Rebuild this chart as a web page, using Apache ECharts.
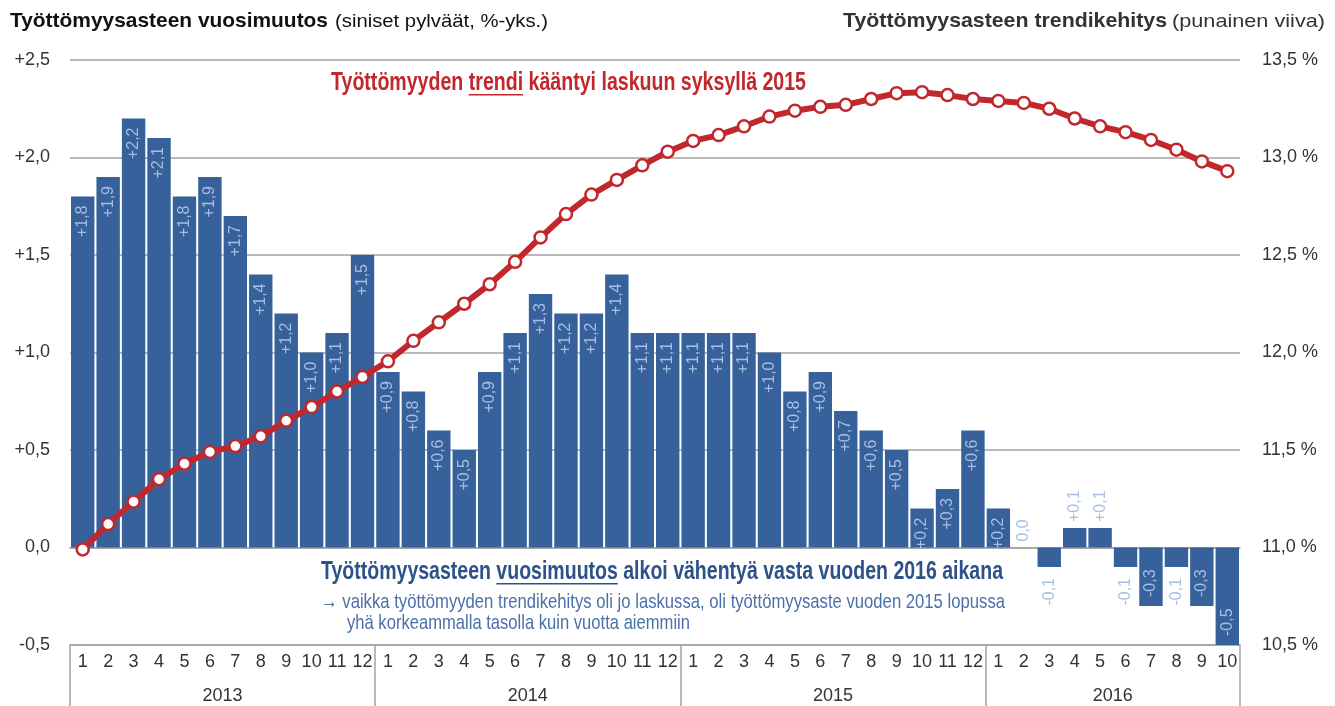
<!DOCTYPE html>
<html>
<head>
<meta charset="utf-8">
<script src="https://cdn.jsdelivr.net/npm/echarts@6/dist/echarts.min.js"></script>
<style>
  html, body { margin: 0; padding: 0; background: #fff; }
  #chart { width: 1335px; height: 706px; }
</style>
</head>
<body>
<div id="chart"></div>
<script>
// kuukaudet 2013/1 - 2016/10
const years = ['2013', '2014', '2015', '2016']
const monthsPerYear = [12, 12, 12, 10]
const months = []
monthsPerYear.forEach(n => { for (let m = 1; m <= n; m++) months.push(String(m)) })

// työttömyysasteen vuosimuutos, %-yks. (siniset pylväät)
const yearChange = [
  1.8, 1.9, 2.2, 2.1, 1.8, 1.9, 1.7, 1.4, 1.2, 1.0, 1.1, 1.5,
  0.9, 0.8, 0.6, 0.5, 0.9, 1.1, 1.3, 1.2, 1.2, 1.4, 1.1, 1.1,
  1.1, 1.1, 1.1, 1.0, 0.8, 0.9, 0.7, 0.6, 0.5, 0.2, 0.3, 0.6,
  0.2, 0.0, -0.1, 0.1, 0.1, -0.1, -0.3, -0.1, -0.3, -0.5
]

// työttömyysasteen trendi, % (punainen viiva)
const trend = [
  10.99, 11.12, 11.235, 11.35, 11.43, 11.49, 11.52, 11.57, 11.65, 11.72, 11.80, 11.875,
  11.955, 12.06, 12.155, 12.25, 12.35, 12.465, 12.59, 12.71, 12.81, 12.885, 12.96, 13.03,
  13.085, 13.115, 13.16, 13.21, 13.24, 13.26, 13.27, 13.30, 13.33, 13.335, 13.32, 13.30,
  13.29, 13.28, 13.25, 13.20, 13.16, 13.13, 13.09, 13.04, 12.98, 12.93
]

const leftTicks = { min: -0.5, max: 2.5, step: 0.5 }
const rightTicks = { min: 10.5, max: 13.5, step: 0.5 }

const BLUE = '#36619a'
const RED = '#c1272d'
const GRID_GREY = '#a3a3a3'
const SANS = "'Liberation Sans', Arial, sans-serif"

const comma = v => v.toFixed(1).replace('.', ',')

// vuosien keskikohdat ja rajat
const yearBounds = [0]
const yearMids = []
monthsPerYear.forEach(n => {
  const start = yearBounds[yearBounds.length - 1]
  yearMids.push(start + n / 2)
  yearBounds.push(start + n)
})

// pylväiden arvot: sisällä jos mahtuu, muuten ulkona
const barData = yearChange.map(v => {
  const txt = v > 0 ? '+' + comma(v) : comma(v)
  let label
  if (v >= 0.2) label = { position: 'insideTop', align: 'right', distance: 9 }
  else if (v >= 0) label = { position: 'top', align: 'left', distance: 6 }
  else if (v <= -0.2) label = { position: 'insideBottom', align: 'left', distance: 9 }
  else label = { position: 'bottom', align: 'right', distance: 11 }
  label.formatter = txt
  return { value: v, label: label }
})

// tekstirivi (osa sanoista alleviivattu), puristettu annettuun leveyteen
const measureCtx = document.createElement('canvas').getContext('2d')
function textRun(parts, x0, x1, y, font, size, color) {
  measureCtx.font = font
  const children = []
  let cx = 0
  parts.forEach(p => {
    const w = measureCtx.measureText(p.t).width
    children.push({
      type: 'text', x: cx, y: 0,
      style: { text: p.t, font: font, fill: color, verticalAlign: 'middle', align: 'left' }
    })
    if (p.u) {
      children.push({
        type: 'line',
        shape: { x1: cx, y1: size * 0.45, x2: cx + w, y2: size * 0.45 },
        style: { stroke: color, lineWidth: 1.5 }
      })
    }
    cx += w
  })
  return [{ type: 'group', x: x0, y: y, scaleX: (x1 - x0) / cx, children: children }]
}

const graphics = [].concat(
  textRun([{ t: 'Työttömyysasteen vuosimuutos' }], 10, 328, 21, 'bold 21px ' + SANS, 21, '#111'),
  textRun([{ t: '(siniset pylväät, %-yks.)' }], 335, 548, 22, '19px ' + SANS, 19, '#111'),
  textRun([{ t: 'Työttömyysasteen trendikehitys' }], 843, 1167, 21, 'bold 21px ' + SANS, 21, '#333'),
  textRun([{ t: '(punainen viiva)' }], 1172, 1325, 22, '19px ' + SANS, 19, '#333'),
  textRun([
    { t: 'Työttömyyden ' }, { t: 'trendi', u: true }, { t: ' kääntyi laskuun syksyllä 2015' }
  ], 331, 806, 83, 'bold 26px ' + SANS, 26, RED),
  textRun([
    { t: 'Työttömyysasteen ' }, { t: 'vuosimuutos', u: true }, { t: ' alkoi vähentyä vasta vuoden 2016 aikana' }
  ], 321, 1003, 572, 'bold 26px ' + SANS, 26, '#2d5289'),
  textRun([
    { t: '→ vaikka työttömyyden trendikehitys oli jo laskussa, oli työttömyysaste vuoden 2015 lopussa' }
  ], 321, 1005, 602, '21px ' + SANS, 21, '#4a70a8'),
  textRun([
    { t: 'yhä korkeammalla tasolla kuin vuotta aiemmiin' }
  ], 347, 690, 623, '21px ' + SANS, 21, '#4a70a8')
)

const chart = echarts.init(document.getElementById('chart'))
chart.setOption({
  animation: false,
  backgroundColor: '#fff',
  grid: { left: 70, right: 95, top: 60, bottom: 61, containLabel: false },
  xAxis: [
    { // kuukaudet
      type: 'category',
      data: months,
      position: 'bottom',
      boundaryGap: true,
      axisLine: { onZero: false, lineStyle: { color: GRID_GREY, width: 1.5 } },
      axisTick: { interval: 0, length: 32, lineStyle: { color: GRID_GREY, width: 1.5 } },
      axisLabel: { interval: 0, margin: 8, fontSize: 18, fontFamily: SANS, color: '#333' },
      splitLine: { show: false }
    },
    { // vuodet
      type: 'value',
      min: 0,
      max: months.length,
      position: 'bottom',
      axisLine: { show: false, onZero: false },
      axisTick: { show: true, customValues: yearBounds, length: 61, lineStyle: { color: GRID_GREY, width: 1.5 } },
      axisLabel: {
        customValues: yearMids,
        margin: 42,
        fontSize: 18,
        fontFamily: SANS,
        color: '#333',
        formatter: v => years[yearMids.indexOf(v)] || ''
      },
      splitLine: { show: false }
    },
    { // nollaviiva
      type: 'category',
      data: months,
      position: 'bottom',
      boundaryGap: true,
      axisLine: { onZero: true, lineStyle: { color: GRID_GREY, width: 1.5 } },
      axisTick: { interval: 0, length: 5, lineStyle: { color: GRID_GREY, width: 1.5 } },
      axisLabel: { show: false },
      splitLine: { show: false }
    }
  ],
  yAxis: [
    {
      type: 'value',
      min: leftTicks.min,
      max: leftTicks.max,
      interval: leftTicks.step,
      axisLine: { show: false },
      axisTick: { show: false },
      axisLabel: {
        margin: 20,
        fontSize: 18,
        fontFamily: SANS,
        color: '#333',
        formatter: v => (v > 0 ? '+' : '') + comma(v)
      },
      splitLine: { lineStyle: { color: GRID_GREY, width: 1.5 } }
    },
    {
      type: 'value',
      min: rightTicks.min,
      max: rightTicks.max,
      interval: rightTicks.step,
      position: 'right',
      axisLine: { show: false },
      axisTick: { show: false },
      axisLabel: {
        margin: 22,
        fontSize: 18,
        fontFamily: SANS,
        color: '#333',
        formatter: v => comma(v) + ' %'
      },
      splitLine: { show: false }
    }
  ],
  series: [
    {
      name: 'Vuosimuutos',
      type: 'bar',
      xAxisIndex: 0,
      yAxisIndex: 0,
      data: barData,
      barCategoryGap: '8%',
      itemStyle: { color: BLUE },
      label: {
        show: true,
        rotate: 90,
        verticalAlign: 'middle',
        fontSize: 16,
        fontFamily: SANS,
        color: '#a6bfe3'
      },
      z: 2
    },
    {
      name: 'Trendi',
      type: 'line',
      xAxisIndex: 0,
      yAxisIndex: 1,
      data: trend,
      lineStyle: { color: RED, width: 6 },
      symbol: 'circle',
      symbolSize: 12,
      itemStyle: { color: '#fff', borderColor: RED, borderWidth: 2.5 },
      z: 5
    }
  ],
  graphic: graphics
})
</script>
</body>
</html>
